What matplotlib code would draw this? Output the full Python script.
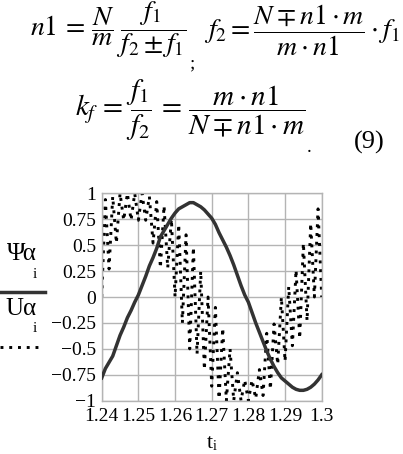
import numpy as np
import matplotlib.pyplot as plt
from matplotlib.lines import Line2D

plt.rcParams['font.family'] = 'Liberation Serif'
plt.rcParams['mathtext.fontset'] = 'stix'

# solid curve: Psi alpha, sampled every 0.001 s from 1.240 to 1.300
t_psi = np.round(np.arange(1.240, 1.3001, 0.001), 3)
psi = [-0.78, -0.69, -0.63, -0.57, -0.47, -0.37, -0.29, -0.20, -0.13, -0.05,
       0.02, 0.11, 0.20, 0.30, 0.38, 0.47, 0.58, 0.64, 0.70, 0.76,
       0.81, 0.85, 0.87, 0.89, 0.91, 0.91, 0.89, 0.87, 0.84, 0.80,
       0.76, 0.70, 0.62, 0.55, 0.48, 0.40, 0.31, 0.21, 0.11, 0.02,
       -0.05, -0.15, -0.25, -0.34, -0.43, -0.52, -0.60, -0.67, -0.73, -0.78,
       -0.81, -0.84, -0.87, -0.89, -0.90, -0.90, -0.89, -0.87, -0.84, -0.80,
       -0.75]

# dotted curve: U alpha, low and high switching levels read at each 0.001 s
u_low = [0.0, 0.27, 0.27, 0.50, 0.52, 0.55, 0.74, 0.74, 0.74, 0.74,
         0.74, 0.74, 0.74, 0.55, 0.52, 0.50, 0.28, 0.28, 0.28, 0.02,
         0.0, 0.0, -0.25, -0.25, -0.50, -0.50, -0.55, -0.70, -0.70, -0.86,
         -0.86, -0.98, -0.98, -1.0, -1.0, -1.0, -1.0, -1.0, -1.0, -1.0,
         -1.0, -1.0, -0.98, -0.98, -0.95, -0.90, -0.89, -0.88, -0.65, -0.63,
         -0.62, -0.55, -0.47, -0.47, -0.40, -0.25, -0.23, -0.10, 0.0, 0.0,
         0.0]
u_high = [0.85, 0.94, 0.95, 0.97, 0.98, 1.0, 1.0, 1.0, 1.0, 1.0,
          1.0, 1.0, 1.0, 0.97, 0.95, 0.92, 0.90, 0.88, 0.85, 0.75,
          0.72, 0.70, 0.68, 0.60, 0.50, 0.48, 0.30, 0.25, 0.20, 0.0,
          -0.02, -0.10, -0.28, -0.30, -0.45, -0.50, -0.60, -0.73, -0.75, -0.80,
          -0.86, -0.80, -0.72, -0.70, -0.60, -0.35, -0.28, -0.26, -0.05, 0.0,
          0.0, 0.10, 0.26, 0.26, 0.40, 0.52, 0.52, 0.71, 0.75, 0.85,
          0.90]

x_ticks = [1.24, 1.25, 1.26, 1.27, 1.28, 1.29, 1.3]
x_labels = ['1.24', '1.25', '1.26', '1.27', '1.28', '1.29', '1.3']
y_ticks = [1, 0.75, 0.5, 0.25, 0, -0.25, -0.5, -0.75, -1]
y_labels = ['1', '0.75', '0.5', '0.25', '0', '\u22120.25', '\u22120.5', '\u22120.75', '\u22121']

# zig-zag: alternate low / high level from one sample to the next
idx = np.arange(len(t_psi))
u_alpha = np.where(idx % 2 == 0, u_low, u_high)

dots = (0, (1, 2))

fig = plt.figure(figsize=(4.03, 4.54), dpi=100)
ax = fig.add_axes([0.2524, 0.1174, 0.5459, 0.4568])

ax.plot(t_psi, psi, color='#333333', lw=2.5, zorder=3)
ax.plot(t_psi, u_alpha, color='black', lw=2.1, linestyle=dots, zorder=2)

ax.set_xlim(1.24, 1.3)
ax.set_ylim(-1, 1)
ax.set_xticks(x_ticks)
ax.set_xticklabels(x_labels)
ax.set_yticks(y_ticks)
ax.set_yticklabels(y_labels)
ax.tick_params(length=0, labelsize=14, pad=4)
ax.tick_params(axis='x', pad=5)
ax.grid(True, color='#b4b4b4', lw=1)
for s in ax.spines.values():
    s.set_color('#b4b4b4')
    s.set_linewidth(1)

# axis labels drawn the Mathcad way
fig.text(210 / 403, 1 - 444 / 454, 't', fontsize=16, ha='center', va='center')
fig.text(215 / 403, 1 - 447 / 454, 'i', fontsize=10, ha='center', va='center')

fig.text(22 / 403, 1 - 254 / 454, '\u03a8\u03b1', fontsize=18, ha='center', va='center')
fig.text(35 / 403, 1 - 275 / 454, 'i', fontsize=11, ha='center', va='center')
fig.add_artist(Line2D([0, 45 / 403], [1 - 292 / 454] * 2, color='#333333', lw=2.5,
                      transform=fig.transFigure))
fig.text(21 / 403, 1 - 309 / 454, 'U\u03b1', fontsize=18, ha='center', va='center')
fig.text(35 / 403, 1 - 329 / 454, 'i', fontsize=11, ha='center', va='center')
fig.add_artist(Line2D([0, 42 / 403], [1 - 347 / 454] * 2, color='black', lw=2.1,
                      linestyle=dots, transform=fig.transFigure))

# equations above the chart
eq = dict(fontsize=20, va='center', ha='left')
fig.text(30 / 403, 1 - 30 / 454, r'$n1\,=\,\dfrac{N}{m}\;\dfrac{f_1}{f_2\pm f_1}$', **eq)
fig.text(189 / 403, 1 - 64 / 454, ';', fontsize=14, va='center', ha='left')
fig.text(204 / 403, 1 - 30 / 454, r'$f_2=\dfrac{N\mp n1\cdot m}{m\cdot n1}\cdot f_1$', **eq)
fig.text(75 / 403, 1 - 110 / 454,
         r'$k_f\,=\,\dfrac{f_1}{f_2}\,=\,\dfrac{m\cdot n1}{N\mp n1\cdot m}$',
         fontsize=21, va='center', ha='left')
fig.text(307 / 403, 1 - 148 / 454, '.', fontsize=14, va='center', ha='left')
fig.text(354 / 403, 1 - 142 / 454, '(9)', fontsize=19, va='center', ha='left')

fig.savefig('out.png', dpi=100)
